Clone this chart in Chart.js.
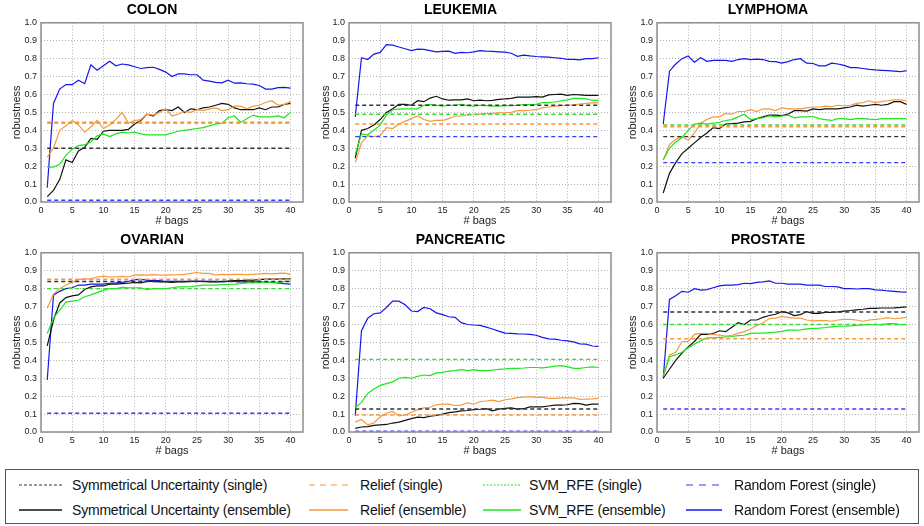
<!DOCTYPE html>
<html>
<head>
<meta charset="utf-8">
<script src="https://cdn.jsdelivr.net/npm/chart.js@4.4.1/dist/chart.umd.min.js"></script>
<style>
  body { margin: 0; background: #fff; font-family: "Liberation Sans", Arial, sans-serif; }
  #wrap { position: relative; width: 924px; height: 526px; overflow: hidden; }
  canvas { position: absolute; }
  #legend { position: absolute; left: 5px; top: 469px; width: 914px; height: 55px; border: 1px solid #555; box-sizing: border-box; }
  .item { position: absolute; font-size: 14px; color: #111; line-height: 16px; white-space: nowrap; letter-spacing: -0.2px; }
  .sample { position: absolute; }
</style>
</head>
<body>
<div id="wrap">
  <canvas id="c0" width="308" height="230" style="left:1px;top:0"></canvas>
  <canvas id="c1" width="308" height="230" style="left:310px;top:0"></canvas>
  <canvas id="c2" width="307" height="230" style="left:617px;top:0"></canvas>
  <canvas id="c3" width="308" height="230" style="left:1px;top:230px"></canvas>
  <canvas id="c4" width="308" height="230" style="left:310px;top:230px"></canvas>
  <canvas id="c5" width="307" height="230" style="left:617px;top:230px"></canvas>
  <div id="legend"></div>
</div>
<script>
// x axis: number of bags
const bags = [];
for (let i = 1; i <= 40; i++) bags.push(i);

const datasetNames = ['COLON', 'LEUKEMIA', 'LYMPHOMA', 'OVARIAN', 'PANCREATIC', 'PROSTATE'];
const yTicks = [0.0, 0.1, 0.2, 0.3, 0.4, 0.5, 0.6, 0.7, 0.8, 0.9, 1.0];

// single (non-ensemble) robustness, one value per dataset
const suSingle     = [0.30, 0.54, 0.365, 0.84, 0.128, 0.67];
const reliefSingle = [0.445, 0.435, 0.42, 0.852, 0.095, 0.52];
const svmSingle    = [0.44, 0.49, 0.43, 0.80, 0.405, 0.60];
const rfSingle     = [0.01, 0.365, 0.22, 0.105, 0.005, 0.128];

// ensemble robustness per number of bags
const colonSU = [0.03,0.065,0.125,0.235,0.22,0.285,0.305,0.355,0.35,0.395,0.40,0.40,0.40,0.405,0.435,0.455,0.49,0.48,0.51,0.515,0.51,0.53,0.50,0.52,0.515,0.525,0.53,0.54,0.55,0.545,0.525,0.515,0.515,0.515,0.525,0.515,0.53,0.53,0.545,0.55];
const colonRelief = [0.25,0.30,0.40,0.425,0.455,0.43,0.39,0.42,0.455,0.41,0.43,0.46,0.50,0.44,0.455,0.46,0.49,0.485,0.50,0.52,0.48,0.49,0.505,0.50,0.515,0.51,0.52,0.525,0.51,0.515,0.535,0.535,0.52,0.535,0.54,0.555,0.565,0.54,0.545,0.56];
const colonSVM = [0.195,0.195,0.21,0.26,0.295,0.315,0.32,0.335,0.37,0.38,0.365,0.38,0.39,0.385,0.39,0.38,0.375,0.375,0.375,0.375,0.385,0.395,0.40,0.405,0.41,0.415,0.425,0.435,0.44,0.47,0.48,0.445,0.465,0.485,0.475,0.475,0.475,0.48,0.47,0.50];
const colonRF = [0.08,0.55,0.63,0.655,0.655,0.68,0.66,0.765,0.735,0.76,0.785,0.76,0.77,0.765,0.755,0.745,0.75,0.752,0.74,0.725,0.70,0.715,0.715,0.71,0.71,0.68,0.675,0.668,0.665,0.68,0.663,0.665,0.66,0.658,0.65,0.63,0.63,0.638,0.64,0.635];

const leukSU = [0.245,0.40,0.41,0.43,0.46,0.50,0.52,0.545,0.545,0.54,0.565,0.56,0.58,0.59,0.575,0.568,0.57,0.57,0.575,0.565,0.568,0.565,0.567,0.573,0.575,0.578,0.585,0.585,0.585,0.588,0.585,0.598,0.60,0.602,0.595,0.60,0.598,0.595,0.595,0.595];
const leukRelief = [0.22,0.33,0.37,0.365,0.37,0.415,0.41,0.435,0.45,0.465,0.48,0.46,0.45,0.455,0.455,0.465,0.48,0.48,0.485,0.487,0.49,0.493,0.495,0.497,0.498,0.50,0.51,0.51,0.512,0.515,0.525,0.53,0.535,0.538,0.54,0.542,0.547,0.55,0.553,0.555];
const leukSVM = [0.265,0.38,0.375,0.40,0.43,0.485,0.515,0.518,0.52,0.52,0.52,0.54,0.545,0.54,0.535,0.54,0.54,0.545,0.538,0.535,0.54,0.538,0.535,0.535,0.538,0.538,0.54,0.543,0.543,0.545,0.555,0.555,0.558,0.565,0.57,0.578,0.578,0.575,0.568,0.567];
const leukRF = [0.475,0.805,0.795,0.825,0.835,0.878,0.875,0.865,0.855,0.845,0.853,0.852,0.845,0.838,0.84,0.842,0.83,0.835,0.833,0.838,0.845,0.842,0.84,0.838,0.836,0.83,0.813,0.82,0.815,0.812,0.81,0.808,0.805,0.802,0.796,0.796,0.793,0.80,0.80,0.805];

const lymphSU = [0.05,0.16,0.22,0.27,0.30,0.33,0.36,0.385,0.415,0.41,0.435,0.437,0.44,0.447,0.45,0.465,0.475,0.485,0.485,0.482,0.49,0.51,0.51,0.507,0.52,0.515,0.52,0.52,0.52,0.525,0.53,0.54,0.535,0.54,0.545,0.54,0.545,0.56,0.56,0.545];
const lymphRelief = [0.235,0.32,0.35,0.365,0.345,0.385,0.44,0.46,0.475,0.475,0.495,0.49,0.505,0.505,0.515,0.505,0.52,0.52,0.51,0.525,0.52,0.52,0.52,0.525,0.53,0.53,0.535,0.532,0.54,0.537,0.54,0.55,0.555,0.565,0.555,0.56,0.565,0.57,0.57,0.565];
const lymphSVM = [0.235,0.30,0.335,0.36,0.40,0.435,0.44,0.435,0.44,0.445,0.455,0.46,0.475,0.49,0.46,0.465,0.47,0.48,0.475,0.48,0.485,0.47,0.475,0.475,0.477,0.465,0.46,0.455,0.465,0.465,0.46,0.465,0.465,0.462,0.46,0.465,0.465,0.465,0.465,0.465];
const lymphRF = [0.435,0.73,0.77,0.80,0.815,0.78,0.805,0.785,0.79,0.79,0.79,0.785,0.795,0.80,0.795,0.797,0.795,0.785,0.783,0.775,0.783,0.795,0.80,0.775,0.773,0.76,0.76,0.775,0.77,0.762,0.75,0.75,0.745,0.74,0.737,0.735,0.733,0.73,0.727,0.733];

const ovarSU = [0.48,0.625,0.72,0.75,0.76,0.765,0.795,0.81,0.815,0.815,0.825,0.825,0.828,0.83,0.835,0.832,0.84,0.84,0.838,0.838,0.835,0.838,0.838,0.84,0.84,0.84,0.838,0.838,0.84,0.842,0.845,0.845,0.847,0.848,0.85,0.853,0.853,0.853,0.855,0.855];
const ovarRelief = [0.69,0.77,0.80,0.82,0.835,0.85,0.855,0.855,0.865,0.87,0.865,0.865,0.868,0.865,0.875,0.877,0.875,0.878,0.875,0.875,0.877,0.878,0.88,0.885,0.89,0.885,0.885,0.875,0.88,0.878,0.88,0.88,0.878,0.88,0.882,0.885,0.882,0.885,0.887,0.88];
const ovarSVM = [0.55,0.635,0.68,0.725,0.73,0.735,0.755,0.765,0.778,0.79,0.80,0.80,0.807,0.805,0.805,0.805,0.795,0.80,0.80,0.80,0.805,0.81,0.81,0.812,0.815,0.82,0.82,0.82,0.822,0.823,0.825,0.828,0.832,0.832,0.833,0.835,0.835,0.835,0.84,0.84];
const ovarRF = [0.29,0.765,0.785,0.80,0.805,0.82,0.82,0.825,0.825,0.825,0.83,0.832,0.835,0.84,0.85,0.852,0.848,0.845,0.845,0.84,0.84,0.84,0.84,0.84,0.84,0.84,0.84,0.84,0.838,0.84,0.84,0.838,0.838,0.838,0.838,0.835,0.835,0.832,0.828,0.825];

const pancSU = [0.02,0.028,0.03,0.037,0.04,0.042,0.05,0.055,0.065,0.075,0.083,0.08,0.088,0.093,0.10,0.108,0.112,0.118,0.12,0.125,0.127,0.13,0.118,0.128,0.132,0.135,0.128,0.13,0.14,0.14,0.14,0.145,0.15,0.15,0.152,0.16,0.158,0.15,0.155,0.155];
const pancRelief = [0.055,0.07,0.04,0.05,0.085,0.105,0.115,0.09,0.095,0.11,0.125,0.135,0.138,0.152,0.155,0.155,0.148,0.15,0.163,0.155,0.17,0.173,0.178,0.17,0.18,0.185,0.192,0.195,0.197,0.193,0.195,0.188,0.188,0.19,0.19,0.19,0.182,0.183,0.185,0.188];
const pancSVM = [0.135,0.165,0.215,0.24,0.26,0.27,0.28,0.30,0.305,0.30,0.31,0.318,0.315,0.33,0.333,0.34,0.343,0.348,0.343,0.348,0.342,0.343,0.345,0.35,0.352,0.355,0.355,0.357,0.36,0.36,0.358,0.362,0.368,0.37,0.365,0.355,0.355,0.36,0.363,0.36];
const pancRF = [0.09,0.565,0.635,0.66,0.665,0.695,0.73,0.73,0.71,0.675,0.672,0.695,0.688,0.665,0.655,0.643,0.64,0.61,0.60,0.597,0.595,0.585,0.575,0.563,0.552,0.55,0.548,0.547,0.545,0.54,0.528,0.52,0.518,0.512,0.508,0.503,0.492,0.49,0.48,0.478];

const prosSU = [0.30,0.35,0.40,0.44,0.475,0.505,0.545,0.545,0.55,0.565,0.56,0.585,0.61,0.60,0.625,0.625,0.64,0.65,0.657,0.672,0.665,0.65,0.655,0.672,0.662,0.662,0.668,0.668,0.67,0.675,0.678,0.682,0.685,0.69,0.69,0.692,0.692,0.693,0.695,0.698];
const prosRelief = [0.31,0.43,0.445,0.505,0.505,0.545,0.55,0.55,0.545,0.54,0.535,0.54,0.55,0.56,0.575,0.595,0.61,0.633,0.635,0.645,0.64,0.635,0.635,0.625,0.62,0.622,0.622,0.618,0.625,0.628,0.628,0.625,0.618,0.625,0.628,0.632,0.638,0.632,0.635,0.64];
const prosSVM = [0.31,0.42,0.43,0.445,0.47,0.49,0.51,0.525,0.525,0.528,0.53,0.533,0.538,0.54,0.55,0.552,0.552,0.555,0.557,0.562,0.568,0.568,0.57,0.575,0.578,0.58,0.583,0.587,0.59,0.59,0.592,0.595,0.597,0.60,0.60,0.598,0.605,0.605,0.60,0.60];
const prosRF = [0.30,0.74,0.76,0.785,0.78,0.80,0.792,0.795,0.805,0.815,0.82,0.82,0.822,0.83,0.828,0.835,0.838,0.843,0.83,0.83,0.825,0.825,0.825,0.82,0.82,0.82,0.812,0.812,0.81,0.80,0.80,0.798,0.80,0.80,0.793,0.792,0.787,0.785,0.782,0.78];

const suEnsemble     = [colonSU, leukSU, lymphSU, ovarSU, pancSU, prosSU];
const reliefEnsemble = [colonRelief, leukRelief, lymphRelief, ovarRelief, pancRelief, prosRelief];
const svmEnsemble    = [colonSVM, leukSVM, lymphSVM, ovarSVM, pancSVM, prosSVM];
const rfEnsemble     = [colonRF, leukRF, lymphRF, ovarRF, pancRF, prosRF];

const colors = { su: '#111111', relief: '#f7983c', svm: '#1ee61e', rf: '#1616ec' };
const singleColors = { su: '#333333', relief: '#f7983c', svm: '#33dd33', rf: '#3b3bff' };

// per panel: y-axis width and right padding so plot areas line up with the reference
const panelYAxisW = [40, 39, 40, 40, 39, 40];
const panelPadR   = [6, 7, 5, 6, 7, 5];

// draws the full frame around the plot area
const framePlugin = {
    id: 'frame',
    afterDraw(chart) {
        const a = chart.chartArea, ctx = chart.ctx;
        ctx.save();
        ctx.strokeStyle = '#8e8e8e';
        ctx.lineWidth = 1.5;
        ctx.strokeRect(a.left, a.top, a.right - a.left, a.bottom - a.top);
        ctx.restore();
    }
};

function flat(v) { return bags.map(() => v); }

function lineSet(label, data, color, dashed) {
    return {
        label: label,
        data: data,
        borderColor: color,
        borderWidth: dashed ? 1.4 : 1.2,
        borderDash: dashed ? [4, 3] : [],
        pointRadius: 0,
        tension: 0,
        fill: false
    };
}

datasetNames.forEach((name, i) => {
    const ctx = document.getElementById('c' + i).getContext('2d');
    new Chart(ctx, {
        type: 'line',
        data: {
            labels: bags,
            datasets: [
                lineSet('Random Forest (single)', flat(rfSingle[i]), singleColors.rf, true),
                lineSet('Symmetrical Uncertainty (single)', flat(suSingle[i]), singleColors.su, true),
                lineSet('Relief (single)', flat(reliefSingle[i]), singleColors.relief, true),
                lineSet('SVM_RFE (single)', flat(svmSingle[i]), singleColors.svm, true),
                lineSet('SVM_RFE (ensemble)', svmEnsemble[i], colors.svm, false),
                lineSet('Relief (ensemble)', reliefEnsemble[i], colors.relief, false),
                lineSet('Symmetrical Uncertainty (ensemble)', suEnsemble[i], colors.su, false),
                lineSet('Random Forest (ensemble)', rfEnsemble[i], colors.rf, false)
            ]
        },
        options: {
            responsive: false,
            animation: false,
            layout: { padding: { top: 0, right: panelPadR[i], bottom: 0, left: 0 } },
            plugins: {
                legend: { display: false },
                tooltip: { enabled: false },
                title: {
                    display: true,
                    text: name,
                    color: '#000',
                    font: { family: 'Liberation Sans', size: 14, weight: 'bold', lineHeight: 1.2 },
                    padding: { top: 2, bottom: 4 }
                }
            },
            scales: {
                x: {
                    type: 'linear',
                    min: 0, max: 42,
                    afterFit(s) { s.height = 28; },
                    ticks: {
                        stepSize: 5, includeBounds: false, padding: 3,
                        color: '#222', font: { family: 'Liberation Sans', size: 9 },
                        maxRotation: 0
                    },
                    grid: { color: '#b4b4b4', drawTicks: false },
                    border: { display: false, dash: [1, 2] },
                    title: { display: true, text: '# bags', color: '#222', font: { family: 'Liberation Sans', size: 11 }, padding: { top: 0, bottom: 2 } }
                },
                y: {
                    min: 0, max: 1,
                    afterFit(s) { s.width = panelYAxisW[i]; },
                    afterBuildTicks(s) { s.ticks = yTicks.map(v => ({ value: v })); },
                    ticks: {
                        padding: 4, color: '#222', font: { family: 'Liberation Sans', size: 9 },
                        callback: v => Number(v).toFixed(1)
                    },
                    grid: { color: '#b4b4b4', drawTicks: false },
                    border: { display: false, dash: [1, 2] },
                    title: { display: true, text: 'robustness', color: '#222', font: { family: 'Liberation Sans', size: 11 }, padding: { top: 9, bottom: 0 } }
                }
            }
        },
        plugins: [framePlugin]
    });
});

// HTML legend with svg line samples
const legendItems = [
    ['Symmetrical Uncertainty (single)', singleColors.su, '3,2', 19, 62, 72, 0],
    ['Symmetrical Uncertainty (ensemble)', colors.su, '', 19, 62, 72, 1],
    ['Relief (single)', singleColors.relief, '6,5', 309, 348, 360, 0],
    ['Relief (ensemble)', colors.relief, '', 309, 348, 360, 1],
    ['SVM_RFE (single)', singleColors.svm, '2,1.5', 483, 521, 529, 0],
    ['SVM_RFE (ensemble)', colors.svm, '', 483, 521, 529, 1],
    ['Random Forest (single)', singleColors.rf, '7,6', 686, 722, 734, 0],
    ['Random Forest (ensemble)', colors.rf, '', 686, 722, 734, 1]
];
const legend = document.getElementById('legend');
const svgNS = 'http://www.w3.org/2000/svg';
legendItems.forEach(([text, color, dash, x0, x1, tx, row]) => {
    const cy = row === 0 ? 15 : 40;
    const svg = document.createElementNS(svgNS, 'svg');
    svg.setAttribute('class', 'sample');
    svg.setAttribute('width', x1 - x0);
    svg.setAttribute('height', 4);
    svg.style.left = (x0 - 6) + 'px';
    svg.style.top = (cy - 2) + 'px';
    const ln = document.createElementNS(svgNS, 'line');
    ln.setAttribute('x1', 0); ln.setAttribute('x2', x1 - x0);
    ln.setAttribute('y1', 2); ln.setAttribute('y2', 2);
    ln.setAttribute('stroke', color);
    ln.setAttribute('stroke-width', dash ? 1.2 : 1.5);
    if (dash) ln.setAttribute('stroke-dasharray', dash);
    svg.appendChild(ln);
    legend.appendChild(svg);
    const t = document.createElement('div');
    t.className = 'item';
    t.style.left = (tx - 6) + 'px';
    t.style.top = (cy - 8) + 'px';
    t.textContent = text;
    legend.appendChild(t);
});
</script>
</body>
</html>
